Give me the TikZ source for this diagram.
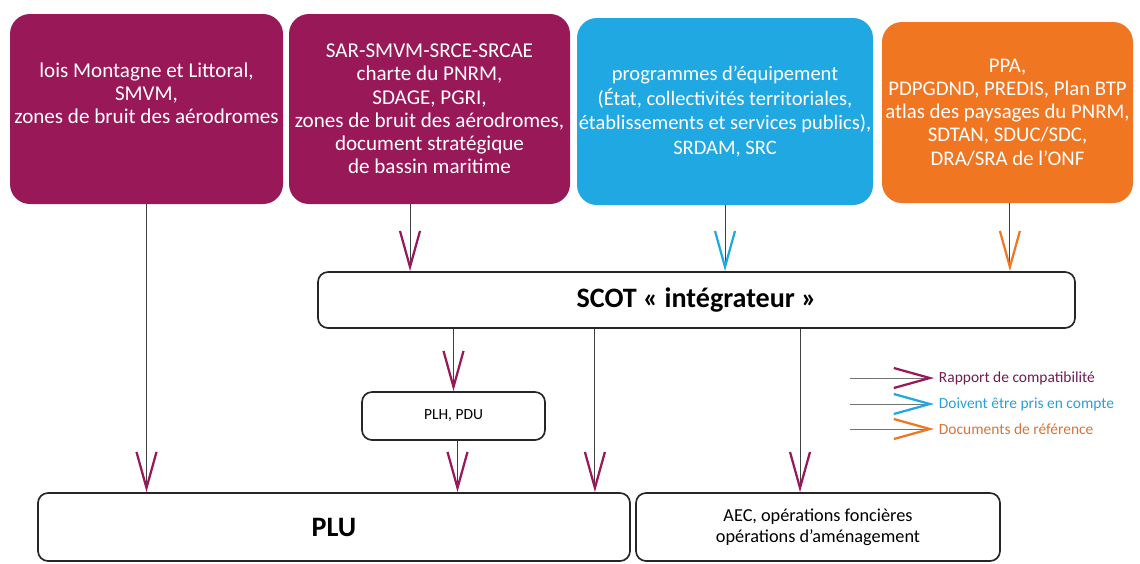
\documentclass[tikz,border=0pt]{standalone}
\usepackage{fontspec}
\setmainfont{Carlito}
\usetikzlibrary{arrows.meta, positioning}
\definecolor{prune}{RGB}{152,24,88}
\definecolor{ciel}{RGB}{32,168,226}
\definecolor{orangedoc}{RGB}{240,118,34}
\definecolor{prunetxt}{RGB}{112,28,84}
\definecolor{cieltxt}{RGB}{40,160,214}
\definecolor{orangetxt}{RGB}{214,116,56}

\begin{document}
\begin{tikzpicture}[
    srcbox/.style={rounded corners=0.5cm, inner xsep=1pt, text=white, align=center, font=\fontsize{15}{16.5}\selectfont},
    srcboxtext/.style={text=white, align=center, font=\fontsize{15}{16.5}\selectfont},
    docbox/.style={draw=black!85, line width=1.2pt, rounded corners=0.25cm, fill=white, align=center},
    compat/.style={draw=black!75, line width=0.6pt, -{Straight Barb[length=0.9cm, width=0.5cm, line width=1.6pt, color=prune]}},
    compte/.style={draw=black!75, line width=0.6pt, -{Straight Barb[length=0.9cm, width=0.5cm, line width=1.6pt, color=ciel]}},
    refdoc/.style={draw=black!75, line width=0.6pt, -{Straight Barb[length=0.9cm, width=0.5cm, line width=1.6pt, color=orangedoc]}},
    legtext/.style={anchor=west, font=\fontsize{11}{13}\selectfont}
]
    \useasboundingbox (0,0) rectangle (28.5,-14.075);

    \node[srcbox, fill=prune, minimum width=6.825cm, minimum height=4.75cm,
        label={[srcboxtext, yshift=0.4cm]center:{lois Montagne et Littoral,\\SMVM,\\zones de bruit des aérodromes}}] (lois) at (3.6625,-2.725) {};
    \node[srcbox, fill=prune, minimum width=7.025cm, minimum height=4.75cm] (sar) at (10.7375,-2.725)
        {SAR-SMVM-SRCE-SRCAE\\charte du PNRM,\\SDAGE, PGRI,\\zones de bruit des aérodromes,\\document stratégique\\de bassin maritime};
    \node[srcbox, fill=ciel, minimum width=7.4cm, minimum height=4.675cm, font=\fontsize{14.6}{17.5}\selectfont] (prog) at (18.125,-2.7875)
        {programmes d’équipement\\(État, collectivités territoriales,\\établissements et services publics),\\SRDAM, SRC};
    \node[srcbox, fill=orangedoc, minimum width=6.275cm, minimum height=4.525cm, font=\fontsize{14.8}{16.5}\selectfont] (ppa) at (25.1875,-2.8125)
        {PPA,\\PDPGDND, PREDIS, Plan BTP\\atlas des paysages du PNRM,\\SDTAN, SDUC/SDC,\\DRA/SRA de l’ONF};

    \node[docbox, minimum width=18.925cm, minimum height=1.4cm, font=\fontsize{20}{24}\selectfont\bfseries] (scot) at (17.4125,-7.5) {SCOT « intégrateur »};
    \node[docbox, minimum width=4.575cm, minimum height=1.2cm, font=\fontsize{11}{13}\selectfont] (plh) at (11.3375,-10.4) {PLH, PDU};
    \node[docbox, minimum width=14.8cm, minimum height=1.7cm, font=\fontsize{20}{24}\selectfont\bfseries] (plu) at (8.35,-13.175) {PLU};
    \node[docbox, minimum width=9.1cm, minimum height=1.7cm, font=\fontsize{13}{15}\selectfont] (aec) at (20.45,-13.175)
        {AEC, opérations foncières\\opérations d’aménagement};

    \draw[compat] (lois.south) -- (lois.south |- plu.north);
    \draw[compat] ([xshift=-0.4875cm]sar.south) -- ([xshift=-0.4875cm]sar.south |- scot.north);
    \draw[compte] (prog.south) -- (prog.south |- scot.north);
    \draw[refdoc] ([xshift=0.06cm]ppa.south) -- ([xshift=0.06cm]ppa.south |- scot.north);

    \draw[compat] (plh.north |- scot.south) -- (plh.north);
    \draw[compat] ([xshift=0.1cm]plh.south) -- ([xshift=0.1cm]plh.south |- plu.north);
    \draw[compat] ([xshift=-2.54cm]scot.south) -- ([xshift=-2.54cm]scot.south |- plu.north);
    \draw[compat] ([xshift=-0.45cm]aec.north |- scot.south) -- ([xshift=-0.45cm]aec.north);

    \node[legtext, text=prunetxt] (legcompat) at (23.35,-9.45) {Rapport de compatibilité};
    \node[legtext, text=cieltxt] (legcompte) at (23.35,-10.1) {Doivent être pris en compte};
    \node[legtext, text=orangetxt] (legref) at (23.35,-10.725) {Documents de référence};

    \draw[compat, draw=black!55] ([xshift=-2.1cm]legcompat.west) -- (legcompat.west);
    \draw[compte, draw=black!55] ([xshift=-2.1cm]legcompte.west) -- (legcompte.west);
    \draw[refdoc, draw=black!55] ([xshift=-2.1cm]legref.west) -- (legref.west);
  \end{tikzpicture}
\end{document}
